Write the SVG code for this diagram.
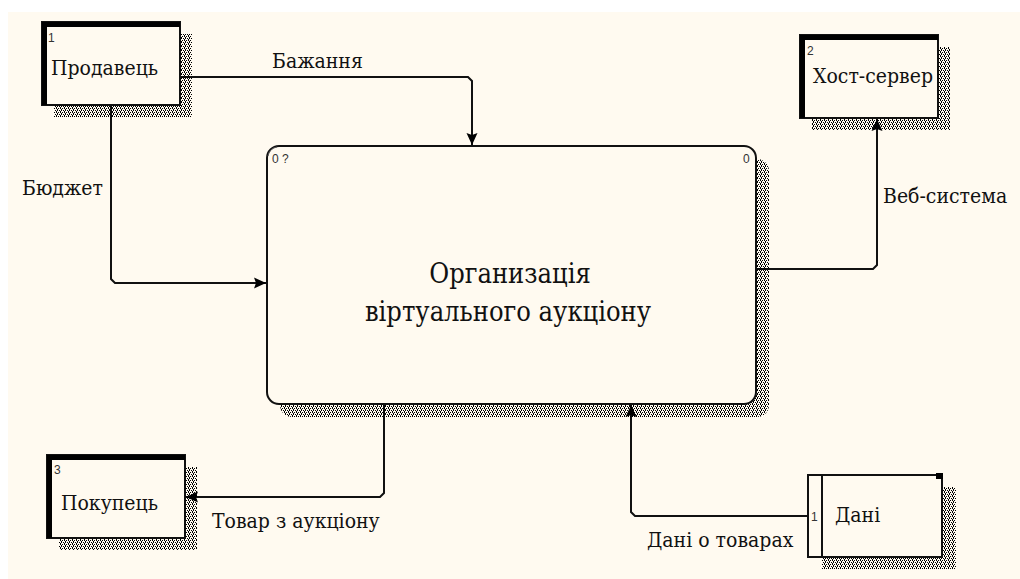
<svg xmlns="http://www.w3.org/2000/svg" width="1020" height="579" viewBox="0 0 1020 579">
  <style>
    .lbl { font-family: "DejaVu Serif Condensed", "DejaVu Serif", serif; font-stretch: condensed; font-size: 21px; fill: #111; }
    .title { font-family: "DejaVu Serif Condensed", "DejaVu Serif", serif; font-stretch: condensed; font-size: 27px; fill: #111; }
    .num { font-family: "Liberation Sans", "DejaVu Sans", sans-serif; font-size: 12px; fill: #333; }
    .box { fill: #FFFAF0; stroke: #111; stroke-width: 2; }
    .thick { fill: none; stroke: #000; stroke-width: 5; }
    .shadow { fill: url(#hatch); }
    .wire { fill: none; stroke: #111; stroke-width: 2; }
  </style>
  <defs>
    <pattern id="hatch" width="4" height="4" patternUnits="userSpaceOnUse">
      <rect x="0" y="0" width="1" height="1" fill="#000"/>
      <rect x="2" y="0" width="1" height="1" fill="#000"/>
      <rect x="1" y="1" width="1" height="1" fill="#000"/>
      <rect x="3" y="2" width="1" height="1" fill="#000"/>
      <rect x="1" y="2" width="1" height="1" fill="#000"/>
      <rect x="0" y="3" width="1" height="1" fill="#000"/>
    </pattern>
    <marker id="arrow" markerUnits="userSpaceOnUse" markerWidth="14" markerHeight="14" refX="12" refY="6" orient="auto">
      <path d="M0,0.5 L12,6 L0,11.5 L2,6 Z" fill="#000"/>
    </marker>
  </defs>

  <!-- page -->
  <rect x="0" y="0" width="1020" height="579" fill="#ffffff"/>
  <rect x="8" y="12" width="1012" height="567" fill="#FFFAF0"/>

  <!-- connectors -->
  <g id="connectors">
    <path class="wire" d="M180,77 H468 L472,81 V145" marker-end="url(#arrow)"/>
    <path class="wire" d="M111,105 V279 L115,283 H266" marker-end="url(#arrow)"/>
    <path class="wire" d="M757,269 H873 L877,265 V119" marker-end="url(#arrow)"/>
    <path class="wire" d="M384,404 V493 L380,497 H186" marker-end="url(#arrow)"/>
    <path class="wire" d="M808,516 H635 L631,512 V405" marker-end="url(#arrow)"/>
    <text class="lbl" x="272" y="68">Бажання</text>
    <text class="lbl" x="22" y="195">Бюджет</text>
    <text class="lbl" x="883" y="203">Веб-система</text>
    <text class="lbl" x="212" y="528">Товар з аукціону</text>
    <text class="lbl" x="647" y="547">Дані о товарах</text>
  </g>

  <!-- central activity -->
  <g id="activity">
    <rect class="shadow" x="280" y="159" width="489" height="258" rx="12"/>
    <rect class="box" x="267" y="146" width="489" height="258" rx="12"/>
    <path d="M268,156 A11,11 0 0 1 277,147" fill="none" stroke="#555" stroke-width="1"/>
    <text class="num" x="272" y="163">0 ?</text>
    <text class="num" x="743" y="163">0</text>
    <text class="title" x="510" y="283" text-anchor="middle">Организація</text>
    <text class="title" x="508" y="321" text-anchor="middle">віртуального аукціону</text>
  </g>

  <!-- external entity: seller -->
  <g id="seller">
    <rect class="shadow" x="54" y="34" width="138" height="83"/>
    <rect class="box" x="42" y="22" width="138" height="83"/>
    <path class="thick" d="M44.5,105 V24.5 H180"/>
    <text class="num" x="48" y="42">1</text>
    <text class="lbl" x="51" y="75">Продавець</text>
  </g>

  <!-- external entity: host server -->
  <g id="host">
    <rect class="shadow" x="812" y="47" width="138" height="83"/>
    <rect class="box" x="800" y="35" width="138" height="83"/>
    <path class="thick" d="M802.5,118 V37.5 H938"/>
    <text class="num" x="807" y="55">2</text>
    <text class="lbl" x="813" y="83">Хост-сервер</text>
  </g>

  <!-- external entity: buyer -->
  <g id="buyer">
    <rect class="shadow" x="59" y="467" width="138" height="83"/>
    <rect class="box" x="47" y="455" width="138" height="83"/>
    <path class="thick" d="M49.5,538 V457.5 H185"/>
    <text class="num" x="54" y="474">3</text>
    <text class="lbl" x="61" y="510">Покупець</text>
  </g>

  <!-- data store -->
  <g id="datastore">
    <rect class="shadow" x="822" y="487" width="134" height="82"/>
    <rect class="box" x="808" y="475" width="134" height="82"/>
    <line x1="822" y1="475" x2="822" y2="557" stroke="#111" stroke-width="2"/>
    <rect x="936" y="473" width="7" height="6" fill="#000"/>
    <text class="num" x="811" y="521">1</text>
    <text class="lbl" x="835" y="522">Дані</text>
  </g>
</svg>
